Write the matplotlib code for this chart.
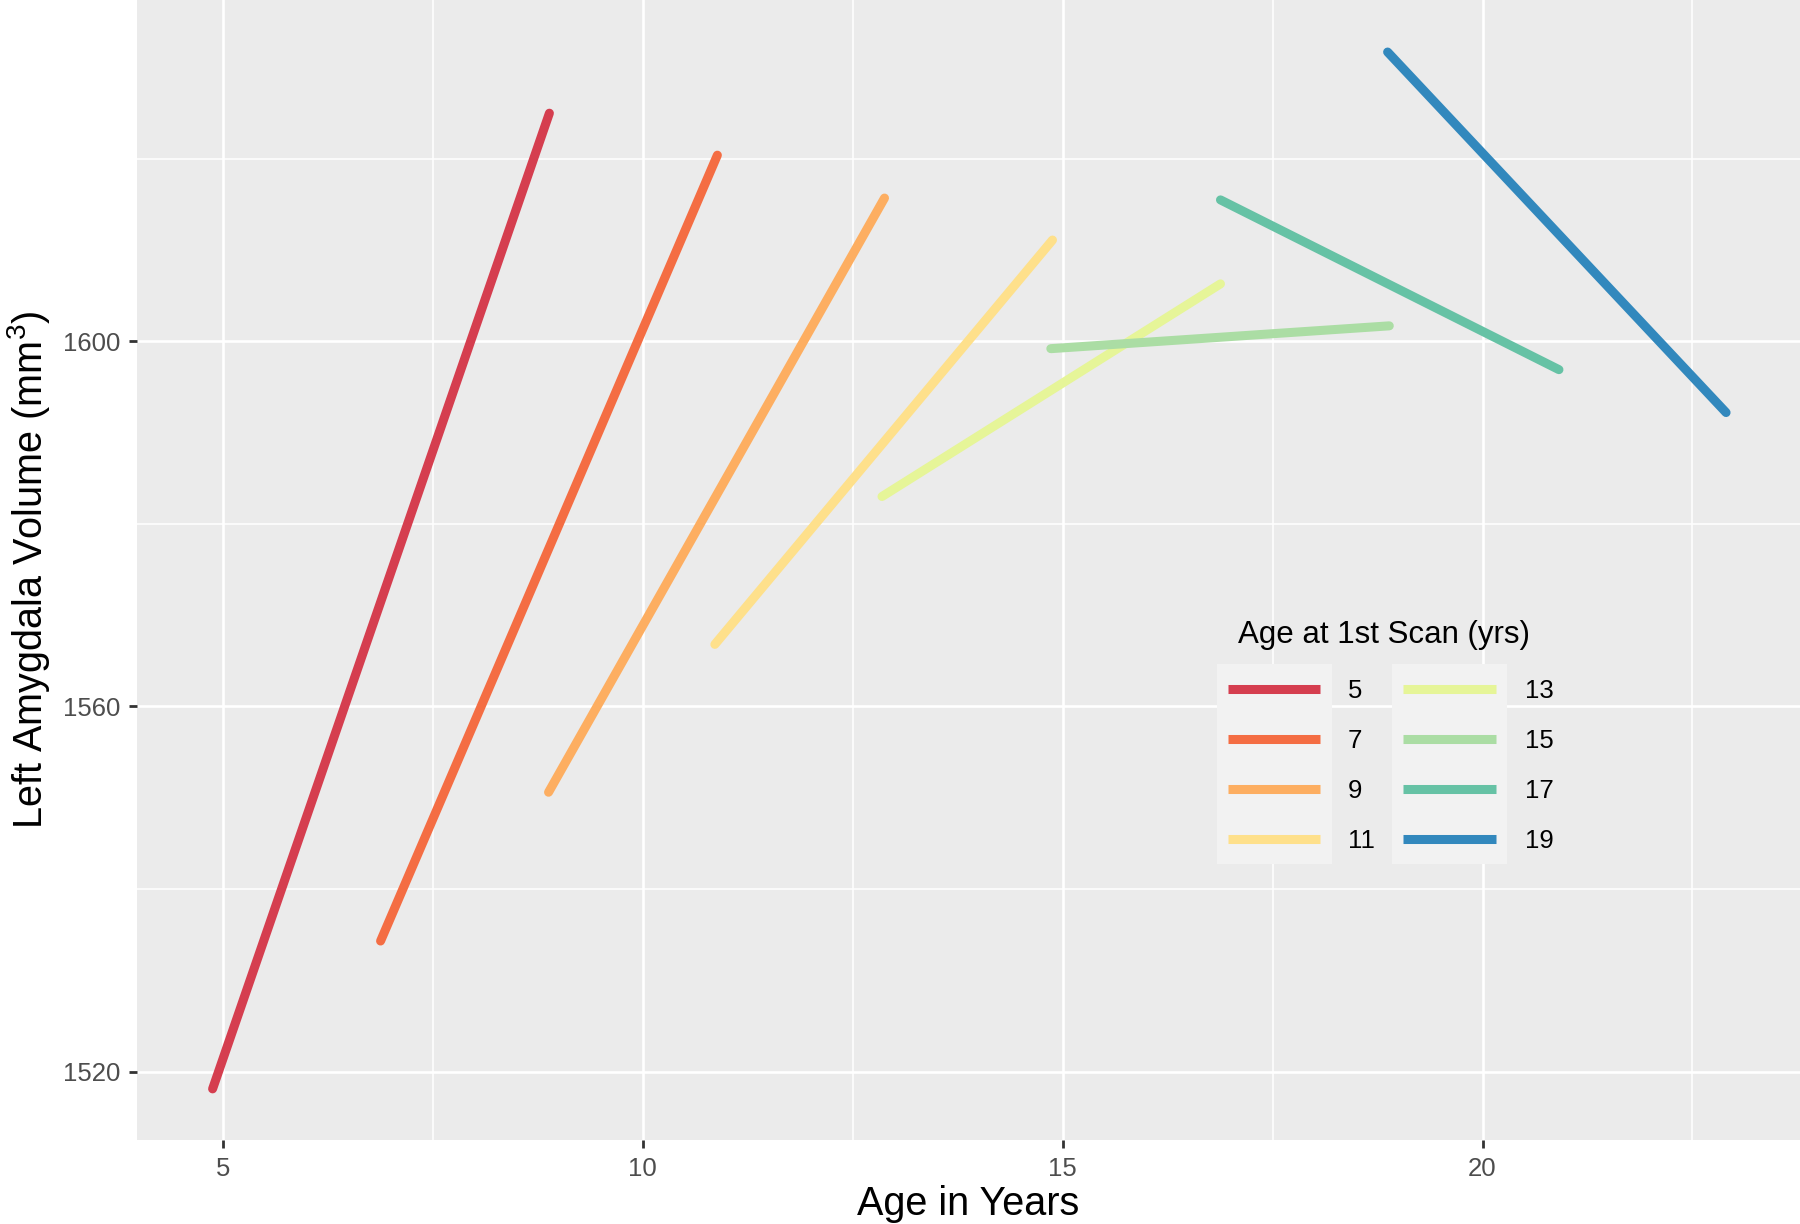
import matplotlib
matplotlib.use("Agg")
import matplotlib.pyplot as plt
from matplotlib.lines import Line2D
from matplotlib.patches import Rectangle

plt.rcParams['font.family'] = ['Liberation Sans', 'DejaVu Sans']
plt.rcParams['mathtext.fontset'] = 'custom'
plt.rcParams['mathtext.rm'] = 'Liberation Sans'

# data: each cohort's fitted line, start and end of the scan span
cohorts = ['5', '7', '9', '11', '13', '15', '17', '19']
age_start = [4.88, 6.88, 8.88, 10.86, 12.85, 14.86, 16.88, 18.87]
age_end = [8.89, 10.89, 12.88, 14.88, 16.88, 18.89, 20.91, 22.90]
vol_start = [1518.1, 1534.3, 1550.6, 1566.8, 1583.0, 1599.2, 1615.5, 1631.7]
vol_end = [1625.0, 1620.4, 1615.7, 1611.1, 1606.3, 1601.7, 1596.9, 1592.2]
colors = ['#D53E4F', '#F46D43', '#FDAE61', '#FEE08B',
          '#E6F598', '#ABDDA4', '#66C2A5', '#3288BD']

W, H = 1800, 1224
fig = plt.figure(figsize=(W / 100, H / 100), dpi=100)
ax = fig.add_axes([137 / W, (H - 1140) / H, (W - 137) / W, 1140 / H])
ax.set_facecolor('#EBEBEB')
for s in ax.spines.values():
    s.set_visible(False)

for i in range(len(cohorts)):
    ax.plot([age_start[i], age_end[i]], [vol_start[i], vol_end[i]],
            color=colors[i], lw=6.5, solid_capstyle='round', zorder=3)

ax.set_xlim(3.98, 23.78)
ax.set_ylim(1512.5, 1637.4)
ax.set_xticks([5, 10, 15, 20])
ax.set_yticks([1520, 1560, 1600])
ax.set_xticks([7.5, 12.5, 17.5, 22.5], minor=True)
ax.set_yticks([1540, 1580, 1620], minor=True)
ax.grid(True, which='major', color='white', lw=1.9)
ax.grid(True, which='minor', color='white', lw=1.1)
ax.set_axisbelow(True)
ax.tick_params(which='major', length=6, width=2, color='#333333',
               labelsize=18.5, labelcolor='#4D4D4D', pad=6)
ax.tick_params(which='minor', length=0)

fig.text(968 / W, 1 - 1204 / H, 'Age in Years', fontsize=28.5,
         ha='center', va='center')
fig.text(29 / W, 1 - 570 / H, r'Left Amygdala Volume (mm$^{3}$)',
         fontsize=28.5, rotation=90, ha='center', va='center')

# legend, drawn in pixel positions of the figure
def fx(px):
    return px / W

def fy(py):
    return 1 - py / H

fig.text(fx(1384), fy(635), 'Age at 1st Scan (yrs)', fontsize=22.5,
         ha='center', va='center')
col_bg = [1217, 1392]
col_line = [(1228, 1320), (1403, 1496)]
col_lab = [1348, 1525]
rows = [689, 739, 789, 839]
for c in range(2):
    fig.add_artist(Rectangle((fx(col_bg[c]), fy(864)), 115 / W, 200 / H,
                             transform=fig.transFigure, facecolor='#F2F2F2',
                             edgecolor='none', zorder=4))
for i, lab in enumerate(cohorts):
    c, r = divmod(i, 4)
    x0, x1 = col_line[c]
    fig.add_artist(Line2D([fx(x0), fx(x1)], [fy(rows[r]), fy(rows[r])],
                          transform=fig.transFigure, color=colors[i],
                          lw=6.5, solid_capstyle='butt', zorder=5))
    fig.text(fx(col_lab[c]), fy(rows[r] + 2), lab, fontsize=18.5,
             ha='left', va='center', zorder=5)

fig.savefig('out.png', dpi=100)
